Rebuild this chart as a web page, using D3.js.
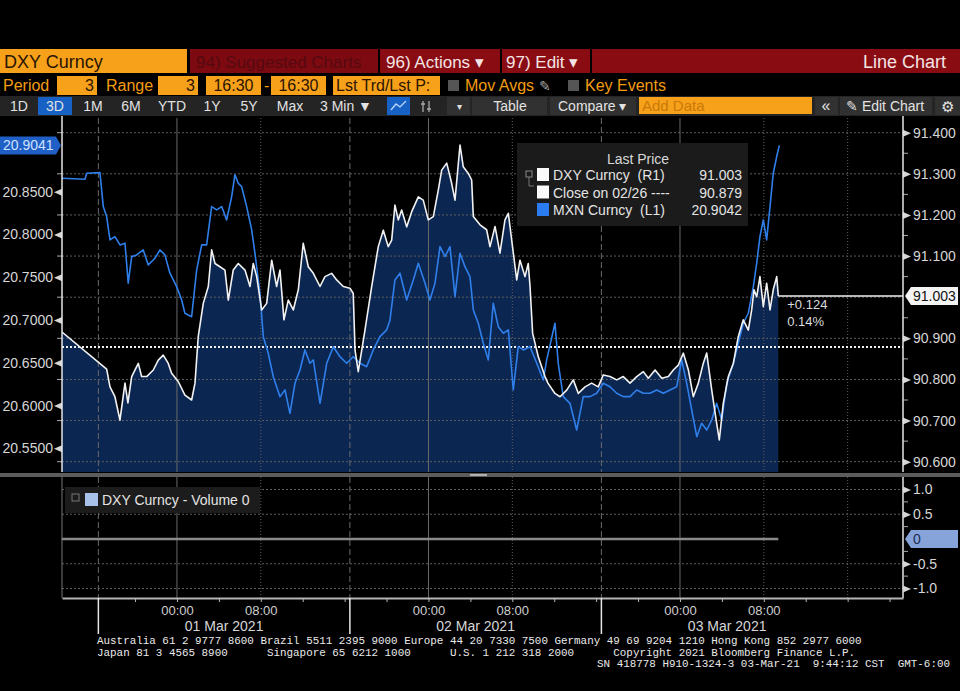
<!DOCTYPE html>
<html>
<head>
<meta charset="utf-8">
<script src="https://cdn.jsdelivr.net/npm/d3@7"></script>
<style>
  body { margin: 0; background: #000; overflow: hidden; }
  svg { display: block; }
  text { white-space: pre; }
</style>
</head>
<body>
<script>
// ---- data (hours since 01 Mar 2021 00:00, weekend collapsed) ----
const dxyHours = [-11.00,-6.71,-6.39,-5.92,-5.44,-4.96,-4.68,-4.32,-3.69,-3.37,
  -2.89,-2.26,-1.78,-1.31,-0.83,-0.51,0.12,0.76,1.40,1.72,
  2.03,2.51,2.99,3.31,3.63,4.10,4.58,4.90,5.37,5.85,
  6.49,6.97,7.28,7.61,8.08,8.56,9.04,9.51,9.83,10.21,
  10.62,11.10,11.58,12.05,12.53,13.01,13.65,14.12,14.76,15.24,
  15.87,16.51,16.82,16.99,17.30,17.94,18.58,19.21,19.69,20.16,
  20.49,20.80,21.12,21.44,21.92,22.40,23.03,23.50,23.98,24.46,
  24.94,25.26,25.74,26.21,26.53,27.01,27.32,27.80,28.12,28.28,
  28.92,29.55,29.87,30.35,30.82,31.30,31.62,31.94,32.42,32.73,
  33.21,33.52,33.69,33.94,34.48,35.12,35.40,36.07,36.55,37.19,
  37.82,38.30,38.94,39.57,40.20,40.68,41.32,41.96,42.59,43.23,
  43.87,44.50,44.98,45.62,46.26,46.89,47.36,47.84,48.32,48.80,
  49.27,49.75,50.22,50.55,51.03,51.50,51.75,52.13,52.61,53.09,
  53.56,54.04,54.52,54.84,55.06,55.32,55.63,55.95,56.27,56.59,
  56.90,57.23,57.38];
const dxyValues = [90.916,90.825,90.782,90.758,90.701,90.791,90.743,90.807,90.839,90.807,
  90.807,90.823,90.847,90.859,90.839,90.815,90.795,90.762,90.750,90.791,
  90.904,90.985,91.026,91.115,91.082,91.074,91.066,90.993,91.066,91.082,
  91.066,91.026,91.082,91.050,90.969,90.985,91.090,91.026,91.066,90.945,
  90.993,90.969,91.018,91.131,91.074,91.058,91.026,91.050,91.058,91.042,
  91.026,91.022,91.009,90.872,90.819,90.920,91.026,91.123,91.163,91.123,
  91.139,91.224,91.188,91.212,91.171,91.208,91.244,91.236,91.188,91.196,
  91.261,91.309,91.326,91.277,91.236,91.370,91.317,91.301,91.285,91.196,
  91.176,91.164,91.123,91.172,91.107,91.188,91.204,91.139,91.042,91.090,
  91.050,91.082,91.026,90.912,90.855,90.807,90.791,90.766,90.758,90.774,
  90.799,90.766,90.782,90.791,90.782,90.811,90.807,90.799,90.807,90.791,
  90.807,90.819,90.803,90.823,90.803,90.807,90.823,90.835,90.864,90.823,
  90.758,90.791,90.839,90.864,90.774,90.693,90.653,90.742,90.807,90.839,
  90.904,90.945,90.920,90.969,91.018,91.001,91.050,90.977,91.034,90.969,
  91.018,91.050,91.003];

const mxnHours = [-11.00,-8.78,-8.62,-7.35,-7.03,-6.71,-6.39,-5.92,-5.44,-4.96,
  -4.65,-4.32,-3.85,-3.22,-2.74,-2.10,-1.62,-1.15,-0.67,-0.03,
  0.45,0.76,1.40,1.88,2.36,2.83,3.31,3.79,4.27,4.74,
  5.22,5.53,5.85,6.17,6.65,7.13,7.44,7.92,8.24,8.71,
  9.19,9.83,10.31,10.78,11.26,11.74,12.21,12.69,13.01,13.65,
  14.29,14.92,15.55,16.19,16.82,17.46,18.10,18.73,19.37,20.01,
  20.33,20.80,21.28,21.92,22.55,23.03,23.67,24.14,24.62,25.10,
  25.58,26.05,26.53,27.01,27.48,27.96,28.28,28.75,29.23,29.71,
  30.18,30.66,31.14,31.62,32.09,32.57,33.05,33.69,34.33,34.96,
  35.28,36.07,36.38,36.86,37.50,38.14,38.77,39.41,40.05,40.68,
  41.32,41.96,42.59,43.23,43.87,44.50,45.14,45.78,46.41,47.05,
  47.69,48.16,48.64,49.12,49.60,50.07,50.55,51.03,51.50,51.98,
  52.46,53.09,53.56,54.04,54.52,55.00,55.32,55.63,55.95,56.27,
  56.59,56.90,57.23,57.48];
const mxnValues = [20.8658,20.8646,20.8716,20.8723,20.8326,20.8209,20.7936,20.7975,20.7878,20.7898,
  20.7430,20.7741,20.7761,20.7819,20.7644,20.7722,20.7819,20.7761,20.7547,20.7390,
  20.7234,20.7079,20.7039,20.7585,20.7878,20.7878,20.8326,20.8287,20.8326,20.8170,
  20.8443,20.8697,20.8599,20.8560,20.8326,20.8053,20.7781,20.7313,20.6805,20.6611,
  20.6337,20.6104,20.6182,20.5909,20.6260,20.6416,20.6650,20.6494,20.6533,20.6026,
  20.6494,20.6688,20.6571,20.6494,20.6571,20.6494,20.6454,20.6650,20.6805,20.6884,
  20.7001,20.7468,20.7547,20.7234,20.7468,20.7664,20.7430,20.7234,20.7430,20.7858,
  20.7741,20.7858,20.7273,20.7781,20.7624,20.7507,20.7118,20.6962,20.6728,20.6533,
  20.7196,20.6922,20.6845,20.6884,20.6182,20.6688,20.6650,20.6688,20.6494,20.6299,
  20.6533,20.6962,20.6494,20.6104,20.6026,20.5714,20.6104,20.6104,20.6143,20.6260,
  20.6220,20.6143,20.6104,20.6104,20.6182,20.6143,20.6143,20.6182,20.6143,20.6182,
  20.6220,20.6533,20.6260,20.5948,20.5636,20.5792,20.5714,20.5831,20.6026,20.5831,
  20.6260,20.6494,20.6728,20.6962,20.7079,20.7390,20.7664,20.7975,20.8170,20.7936,
  20.8326,20.8716,20.8911,20.9042];

const volHours = [-11.00, 57.38];
const volValues = [0, 0];

const rightTicks = [90.6, 90.7, 90.8, 90.9, 91.0, 91.1, 91.2, 91.3, 91.4];
const rightLabelTicks = [90.6, 90.7, 90.8, 90.9, 91.1, 91.2, 91.3, 91.4];
const leftTicks = [20.55, 20.60, 20.65, 20.70, 20.75, 20.80, 20.85];
const volTicks = [1.0, 0.5, -0.5, -1.0];
const volTickLabels = ["1.0", "0.5", "-0.5", "-1.0"];

const sessionStartHours = [-7.5, 16.5, 40.5];
const dayLabels = ["01 Mar 2021", "02 Mar 2021", "03 Mar 2021"];
const midnightHours = [0, 24, 48];
const dottedGridHours = [8, 32, 56, 64];
const xTickHours = d3.range(-4, 69, 4);

const lastDXY = 91.003, prevClose = 90.879, lastMXN = 20.9041, legendMXN = "20.9042";
const changeText = ["+0.124", "0.14%"];

// ---- setup ----
const W = 960, H = 691;
const FONT = "'Liberation Sans', Arial, sans-serif";
const MONO = "'Liberation Mono', 'DejaVu Sans Mono', monospace";
const plot = {left: 62, right: 903, top: 118, bottom: 472};
const vol = {top: 477, bottom: 598};

const svg = d3.select("body").append("svg").attr("width", W).attr("height", H)
  .style("font-family", FONT);
svg.append("rect").attr("width", W).attr("height", H).attr("fill", "#000");

const base = Date.UTC(2021, 2, 1);
const toDate = h => new Date(base + h * 3600e3);

const x = d3.scaleUtc().domain([toDate(-10.97), toDate(69.28)]).range([plot.left, plot.right]);
const yR = d3.scaleLinear().domain([90.6, 91.4]).range([461.7, 132.7]);
const yL = d3.scaleLinear().domain([20.55, 20.85]).range([448.3, 191.7]);
const yV = d3.scaleLinear().domain([-1, 1]).range([588.5, 489.5]);

const dxy = dxyHours.map((h, i) => ({h, v: dxyValues[i]}));
const mxn = mxnHours.map((h, i) => ({h, v: mxnValues[i]}));
const volData = volHours.map((h, i) => ({h, v: volValues[i]}));

// ---- header bars ----
const hdr = svg.append("g");
function rect(g, x0, y0, w, h, fill) {
  return g.append("rect").attr("x", x0).attr("y", y0).attr("width", w).attr("height", h).attr("fill", fill);
}
function txt(g, x0, y0, t, size, fill, anchor) {
  return g.append("text").attr("x", x0).attr("y", y0).attr("font-size", size)
    .attr("fill", fill).attr("text-anchor", anchor || "start").text(t);
}
// row 1
rect(hdr, 0, 49, 187, 24, "#f7a11a");
txt(hdr, 4, 68, "DXY Curncy", 18, "#2a1400");
rect(hdr, 190, 49, 770, 24, "#8a0c13");
rect(hdr, 190, 49, 188, 24, "#7c0a10");
txt(hdr, 196, 68, "94) Suggested Charts", 17, "#560910");
rect(hdr, 378, 49, 2, 24, "#000");
txt(hdr, 386, 68, "96) Actions \u25BE", 17, "#f4e4e4");
rect(hdr, 500, 49, 2, 24, "#000");
txt(hdr, 506, 68, "97) Edit \u25BE", 17, "#f4e4e4");
rect(hdr, 590, 49, 2, 24, "#000");
txt(hdr, 946, 68, "Line Chart", 18, "#f4e4e4", "end");

// row 2
const orange = "#f39c12";
txt(hdr, 3, 91, "Period", 16, orange);
[[57, 40, "3", "end"], [158, 40, "3", "end"], [206, 55, "16:30", "middle"],
 [271, 55, "16:30", "middle"], [333, 107, "Lst Trd/Lst P:", "start"]].forEach(([bx, bw, t, a]) => {
  rect(hdr, bx, 76, bw, 19, "#f7a11a");
  const tx = a === "end" ? bx + bw - 3 : a === "middle" ? bx + bw / 2 : bx + 3;
  txt(hdr, tx, 91, t, 16, "#2a1400", a);
});
txt(hdr, 106, 91, "Range", 16, orange);
txt(hdr, 264, 91, "-", 16, orange);
rect(hdr, 448, 80, 11, 11, "#555");
txt(hdr, 465, 91, "Mov Avgs", 16, orange);
txt(hdr, 539, 91, "\u270E", 14, "#aaa");
rect(hdr, 568, 80, 11, 11, "#555");
txt(hdr, 585, 91, "Key Events", 16, orange);

// row 3
rect(hdr, 0, 96, 960, 20, "#242424");
[[472, 75], [550, 86], [815, 23], [840, 92], [935, 25], [447, 23]].forEach(([bx, bw]) =>
  rect(hdr, bx, 97, bw, 18, "#313131"));
rect(hdr, 38, 97, 34, 18, "#1760c4");
rect(hdr, 387, 97, 23, 18, "#1760c4");
hdr.append("path").attr("d", "M391,110 L396,104 L400,107 L406,101").attr("fill", "none")
  .attr("stroke", "#bcd6ff").attr("stroke-width", 1.3);
hdr.append("path").attr("d", "M423,101 V112 M429,101 V112 M421,104 H425 M427,109 H431")
  .attr("stroke", "#aaa").attr("stroke-width", 1.3);
const tb = "#e2e2e2";
[["1D", 19], ["3D", 55], ["1M", 93], ["6M", 131], ["YTD", 172], ["1Y", 212], ["5Y", 249], ["Max", 290]]
  .forEach(([t, cx]) => txt(hdr, cx, 111, t, 14, tb, "middle"));
txt(hdr, 320, 111, "3 Min \u25BC", 14, tb);
txt(hdr, 459, 110, "\u25BE", 10, tb, "middle");
txt(hdr, 510, 111, "Table", 14, tb, "middle");
txt(hdr, 558, 111, "Compare \u25BE", 14, tb);
rect(hdr, 639, 97, 173, 17, "#f7a11a");
txt(hdr, 642, 111, "Add Data", 15, "#c97a08");
txt(hdr, 826, 111, "\u00AB", 16, tb, "middle");
txt(hdr, 846, 111, "\u270E Edit Chart", 14, tb);
txt(hdr, 947, 112, "\u2699", 15, tb, "middle");

// ---- main plot ----
svg.append("clipPath").attr("id", "clip").append("rect")
  .attr("x", plot.left).attr("y", plot.top).attr("width", plot.right - plot.left).attr("height", plot.bottom - plot.top);
const main = svg.append("g").attr("clip-path", "url(#clip)");

main.append("path").datum(dxy)
  .attr("fill", "#0c2652")
  .attr("d", d3.area().x(d => x(toDate(d.h))).y0(plot.bottom).y1(d => yR(d.v)));

// grids (main + volume panel)
const grid = svg.append("g");
function vlines(hours, y0, y1, color, dash) {
  grid.selectAll(null).data(hours).join("line")
    .attr("x1", h => x(toDate(h))).attr("x2", h => x(toDate(h)))
    .attr("y1", y0).attr("y2", y1)
    .attr("stroke", color).attr("stroke-width", 1).attr("stroke-dasharray", dash);
}
[[plot.top, plot.bottom], [vol.top, vol.bottom]].forEach(([a, b]) => {
  vlines(midnightHours, a, b, "#6a6a6a", null);
  vlines(sessionStartHours, a, b, "#6a6a6a", "6,3");
  vlines(dottedGridHours, a, b, "#5e5e5e", "1,2");
});
grid.selectAll(null).data(rightTicks).join("line")
  .attr("x1", plot.left).attr("x2", plot.right).attr("y1", d => yR(d)).attr("y2", d => yR(d))
  .attr("stroke", "#5e5e5e").attr("stroke-dasharray", "2,2");
grid.selectAll(null).data(volTicks).join("line")
  .attr("x1", plot.left).attr("x2", plot.right).attr("y1", d => yV(d)).attr("y2", d => yV(d))
  .attr("stroke", "#5e5e5e").attr("stroke-dasharray", "2,2");

const lines = svg.append("g").attr("clip-path", "url(#clip)");
// previous close
lines.append("line").attr("x1", plot.left).attr("x2", plot.right)
  .attr("y1", yR(prevClose)).attr("y2", yR(prevClose))
  .attr("stroke", "#f0f0f0").attr("stroke-width", 2).attr("stroke-dasharray", "2,2");
// MXN
lines.append("path").datum(mxn).attr("fill", "none")
  .attr("stroke", "#2f7fea").attr("stroke-width", 1.6).attr("stroke-linejoin", "round")
  .attr("d", d3.line().x(d => x(toDate(d.h))).y(d => yL(d.v)));
// DXY
lines.append("path").datum(dxy).attr("fill", "none")
  .attr("stroke", "#f2f2f2").attr("stroke-width", 1.6).attr("stroke-linejoin", "round")
  .attr("d", d3.line().x(d => x(toDate(d.h))).y(d => yR(d.v)));
// last price line
const lastX = x(toDate(dxyHours[dxyHours.length - 1]));
lines.append("line").attr("x1", lastX).attr("x2", plot.right)
  .attr("y1", yR(lastDXY)).attr("y2", yR(lastDXY)).attr("stroke", "#f2f2f2").attr("stroke-width", 1.5);
txt(svg, lastX + 9, yR(lastDXY) + 13, changeText[0], 13, "#dcdcdc");
txt(svg, lastX + 9, yR(lastDXY) + 30, changeText[1], 13, "#dcdcdc");

// legend
const lg = svg.append("g");
rect(lg, 517, 143, 231, 83, "#1b1b1b");
txt(lg, 638, 164, "Last Price", 14, "#d8d8d8", "middle");
lg.append("rect").attr("x", 526).attr("y", 171).attr("width", 6).attr("height", 6)
  .attr("fill", "none").attr("stroke", "#888");
lg.append("path").attr("d", "M529,177 V186 H534").attr("fill", "none").attr("stroke", "#777");
[["DXY Curncy  (R1)", lastDXY.toFixed(3), "#fafafa"],
 ["Close on 02/26 ----", prevClose.toFixed(3), "#fafafa"],
 ["MXN Curncy  (L1)", legendMXN, "#2a7cf0"]].forEach(([t, v, c], i) => {
  const yy = 180 + i * 17.5;
  rect(lg, 537, yy - 12, 12, 13, c);
  txt(lg, 553, yy, t, 14, "#e4e4e4");
  txt(lg, 742, yy, v, 14, "#e4e4e4", "end");
});

// ---- axes main ----
const axR = svg.append("g").attr("transform", `translate(${plot.right},0)`)
  .call(d3.axisRight(yR).tickValues(rightLabelTicks).tickFormat(d3.format(".3f")).tickSize(0).tickPadding(10));
axR.select(".domain").remove();
axR.selectAll("text").attr("font-size", 14).attr("fill", "#d6d6d6").attr("font-family", FONT);
axR.selectAll(".tick").append("path").attr("d", "M0,-3.5L8,0L0,3.5Z").attr("fill", "#d6d6d6");
svg.append("g").selectAll("line").data(d3.range(90.65, 91.4, 0.1)).join("line")
  .attr("x1", plot.right).attr("x2", plot.right + 5).attr("y1", d => yR(d)).attr("y2", d => yR(d))
  .attr("stroke", "#aaa");
svg.append("line").attr("x1", plot.right).attr("x2", plot.right).attr("y1", plot.top - 2).attr("y2", plot.bottom)
  .attr("stroke", "#e6e6e6").attr("stroke-width", 1.5);

const axL = svg.append("g").attr("transform", `translate(${plot.left},0)`)
  .call(d3.axisLeft(yL).tickValues(leftTicks).tickFormat(d3.format(".4f")).tickSize(0).tickPadding(9));
axL.select(".domain").remove();
axL.selectAll("text").attr("font-size", 14).attr("fill", "#d6d6d6").attr("font-family", FONT);
axL.selectAll(".tick").append("path").attr("d", "M0,-3.5L-8,0L0,3.5Z").attr("fill", "#d6d6d6");
svg.append("g").selectAll("line").data(rightTicks).join("line")
  .attr("x1", plot.left - 5).attr("x2", plot.left).attr("y1", d => yR(d)).attr("y2", d => yR(d))
  .attr("stroke", "#aaa");
svg.append("line").attr("x1", plot.left).attr("x2", plot.left).attr("y1", plot.top - 2).attr("y2", plot.bottom)
  .attr("stroke", "#e6e6e6").attr("stroke-width", 1.5);

// price tags
const tagY = yL(lastMXN);
svg.append("path").attr("d", `M0,${tagY - 9}H56L61,${tagY}L56,${tagY + 9}H0Z`).attr("fill", "#1f5fc6");
txt(svg, 3, tagY + 5, lastMXN.toFixed(4), 14, "#cfe2ff");
const rTag = yR(lastDXY);
svg.append("path").attr("d", `M${plot.right + 2},${rTag}L${plot.right + 8},${rTag - 9}H958V${rTag + 9}H${plot.right + 8}Z`)
  .attr("fill", "#f4f4f4");
txt(svg, plot.right + 10, rTag + 5, lastDXY.toFixed(3), 14, "#111");

// separator between panels
rect(svg, 0, 473, 960, 4, "#5c5c5c");
rect(svg, 470, 474, 17, 2, "#b0b0b0");

// ---- volume panel ----
svg.append("path").datum(volData).attr("fill", "none").attr("stroke", "#8a8a8a").attr("stroke-width", 2.5)
  .attr("d", d3.line().x(d => x(toDate(d.h))).y(d => yV(d.v)));
svg.append("line").attr("x1", plot.left).attr("x2", plot.left).attr("y1", vol.top).attr("y2", vol.bottom)
  .attr("stroke", "#777");
svg.append("line").attr("x1", plot.right).attr("x2", plot.right).attr("y1", vol.top).attr("y2", vol.bottom)
  .attr("stroke", "#e6e6e6").attr("stroke-width", 1.5);
const axV = svg.append("g").attr("transform", `translate(${plot.right},0)`)
  .call(d3.axisRight(yV).tickValues(volTicks).tickFormat((d, i) => volTickLabels[i]).tickSize(0).tickPadding(10));
axV.select(".domain").remove();
axV.selectAll("text").attr("font-size", 14).attr("fill", "#d6d6d6").attr("font-family", FONT);
axV.selectAll(".tick").append("path").attr("d", "M0,-3.5L8,0L0,3.5Z").attr("fill", "#d6d6d6");
svg.append("g").selectAll("line").data([0.75, 0.25, -0.25, -0.75]).join("line")
  .attr("x1", plot.right).attr("x2", plot.right + 5).attr("y1", d => yV(d)).attr("y2", d => yV(d))
  .attr("stroke", "#aaa");
const vTag = yV(0);
svg.append("path").attr("d", `M${plot.right + 2},${vTag}L${plot.right + 8},${vTag - 9}H958V${vTag + 9}H${plot.right + 8}Z`)
  .attr("fill", "#86a4da");
txt(svg, plot.right + 10, vTag + 5, "0", 14, "#1b2f55");

const vl = svg.append("g");
rect(vl, 65, 487, 195, 26, "#1c1c1c");
vl.append("rect").attr("x", 72).attr("y", 494).attr("width", 7).attr("height", 7).attr("fill", "none").attr("stroke", "#777");
rect(vl, 85, 493, 13, 13, "#a8c1ea");
txt(vl, 102, 505, "DXY Curncy - Volume 0", 14, "#e4e4e4");

// ---- time axis ----
const axX = svg.append("g").attr("transform", `translate(0,${vol.bottom})`)
  .call(d3.axisBottom(x).tickValues(xTickHours.map(toDate)).tickSize(4).tickSizeOuter(0).tickPadding(4)
    .tickFormat(d => (d.getUTCHours() % 8 === 0 && d.getUTCHours() !== 16) ? d3.utcFormat("%H:%M")(d) : ""));
axX.select(".domain").attr("stroke", "#b5b5b5").attr("stroke-width", 2);
axX.selectAll(".tick line").attr("stroke", "#b5b5b5");
axX.selectAll("text").attr("font-size", 13).attr("fill", "#cfcfcf").attr("font-family", FONT);
svg.append("g").selectAll("line").data(sessionStartHours).join("line")
  .attr("x1", h => x(toDate(h))).attr("x2", h => x(toDate(h)))
  .attr("y1", vol.bottom).attr("y2", 634).attr("stroke", "#e6e6e6").attr("stroke-width", 1.5);
svg.append("g").selectAll("text").data(sessionStartHours).join("text")
  .attr("x", h => x(toDate(h + 12))).attr("y", 631).attr("text-anchor", "middle")
  .attr("font-size", 14).attr("fill", "#d6d6d6").text((h, i) => dayLabels[i]);

// ---- footer ----
const ft = svg.append("g").attr("font-family", MONO).attr("font-size", 10.9).attr("fill", "#eaeaea");
ft.append("text").attr("x", 97).attr("y", 644)
  .text("Australia 61 2 9777 8600 Brazil 5511 2395 9000 Europe 44 20 7330 7500 Germany 49 69 9204 1210 Hong Kong 852 2977 6000");
ft.append("text").attr("x", 97).attr("y", 656)
  .text("Japan 81 3 4565 8900      Singapore 65 6212 1000      U.S. 1 212 318 2000      Copyright 2021 Bloomberg Finance L.P.");
ft.append("text").attr("x", 950).attr("y", 667).attr("text-anchor", "end")
  .text("SN 418778 H910-1324-3 03-Mar-21  9:44:12 CST  GMT-6:00");
</script>
</body>
</html>
